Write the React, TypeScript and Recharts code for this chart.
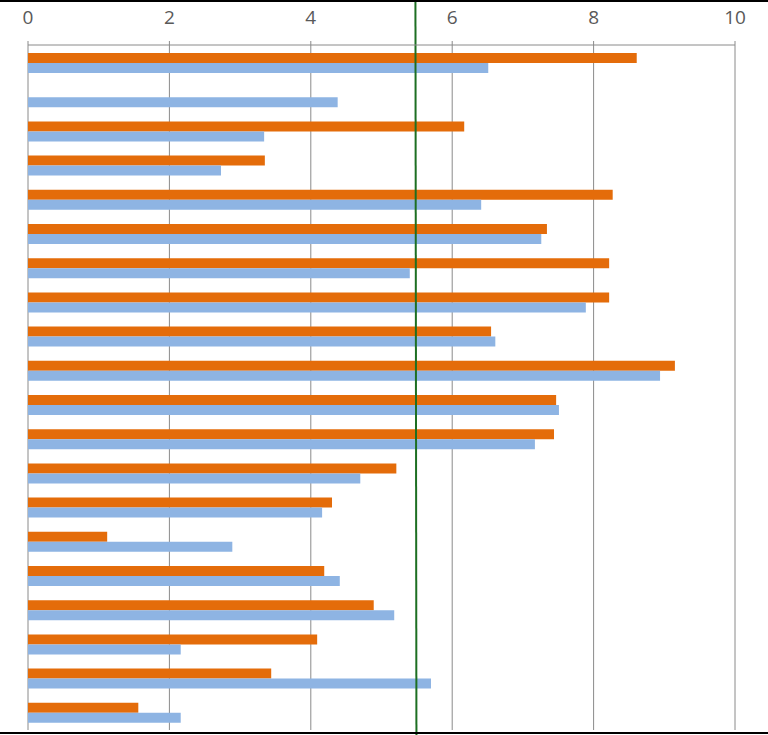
import {
  BarChart,
  Bar,
  XAxis,
  YAxis,
  CartesianGrid,
  ReferenceLine,
} from "recharts";

// categories have no visible labels in the chart
const categories = [
  "1", "2", "3", "4", "5", "6", "7", "8", "9", "10",
  "11", "12", "13", "14", "15", "16", "17", "18", "19", "20",
];
const orangeValues = [
  8.61, 0, 6.17, 3.35, 8.27, 7.34, 8.22, 8.22, 6.55, 9.15,
  7.47, 7.44, 5.21, 4.3, 1.12, 4.19, 4.89, 4.09, 3.44, 1.56,
];
const blueValues = [
  6.51, 4.38, 3.34, 2.73, 6.41, 7.26, 5.4, 7.89, 6.61, 8.94,
  7.51, 7.17, 4.7, 4.16, 2.89, 4.41, 5.18, 2.16, 5.7, 2.16,
];
const xTicks = [0, 2, 4, 6, 8, 10];
const markerValue = 5.48;

const data = categories.map((name, i) => ({
  name,
  orange: orangeValues[i],
  blue: blueValues[i],
}));

// green marker runs past the plot up to the top edge of the picture
const MarkerLine = (props: any) => {
  const { x1, y1, x2, y2 } = props;
  return (
    <line
      x1={x1}
      y1={y1 - 46}
      x2={x2 + 1}
      y2={y2 + 5}
      stroke="#1d6f22"
      strokeWidth={2}
    />
  );
};

export default function App() {
  return (
    <div
      style={{
        position: "absolute",
        left: 0,
        top: 0,
        width: 768,
        height: 735,
        background: "#fff",
      }}
    >
      <BarChart
        width={768}
        height={735}
        data={data}
        layout="vertical"
        margin={{ top: 0, right: 33, bottom: 5, left: 28 }}
        barGap={0}
      >
        <CartesianGrid horizontal={false} stroke="#8a8a8a" />
        <XAxis
          type="number"
          orientation="top"
          domain={[0, 10]}
          ticks={xTicks}
          height={45}
          axisLine={{ stroke: "#8a8a8a" }}
          tickLine={{ stroke: "#8a8a8a" }}
          tickSize={4}
          tickMargin={17}
          tick={{ fill: "#595959", fontSize: 19, fontFamily: "Open Sans" }}
        />
        <YAxis type="category" dataKey="name" hide padding={{ top: 1, bottom: 0 }} />
        <Bar dataKey="orange" fill="#e46c0a" barSize={10} isAnimationActive={false} />
        <Bar dataKey="blue" fill="#8eb4e3" barSize={10} isAnimationActive={false} />
        <ReferenceLine
          x={markerValue}
          ifOverflow="visible"
          shape={<MarkerLine />}
        />
      </BarChart>
      <div
        style={{
          position: "absolute",
          left: 0,
          top: 0,
          width: 768,
          height: 2,
          background: "#000",
        }}
      />
      <div
        style={{
          position: "absolute",
          left: 0,
          top: 732,
          width: 768,
          height: 2,
          background: "#000",
        }}
      />
    </div>
  );
}
